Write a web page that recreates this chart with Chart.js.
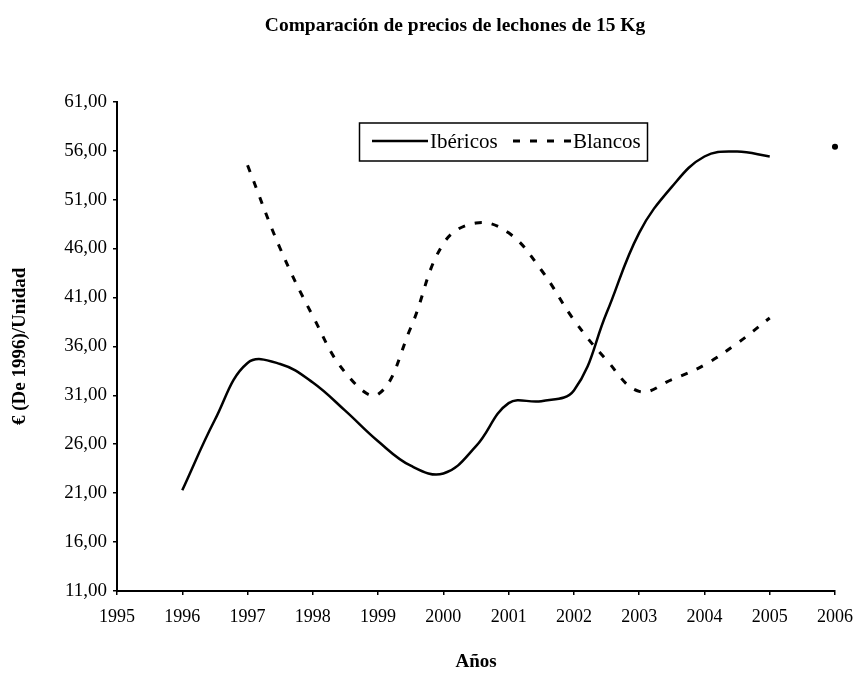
<!DOCTYPE html>
<html>
<head>
<meta charset="utf-8">
<script src="https://cdn.jsdelivr.net/npm/chart.js@4/dist/chart.umd.min.js"></script>
<style>
  html, body { margin: 0; padding: 0; background: #fff; }
  #wrap { width: 856px; height: 673px; }
</style>
</head>
<body>
<div id="wrap"><canvas id="chart" width="856" height="673"></canvas></div>
<script>
// years (half-year steps)
const years = [1996, 1996.5, 1997, 1997.5, 1998, 1998.5, 1999, 1999.5, 2000, 2000.5,
               2001, 2001.5, 2002, 2002.5, 2003, 2003.5, 2004, 2004.5, 2005, 2005.5, 2006];
const ibericos = [21.3, 28.5, 34.3, 34.2, 32.3, 29.4, 26.3, 23.8, 23.0, 25.8,
                  30.2, 30.4, 31.5, 39.4, 47.6, 52.3, 55.4, 55.9, 55.4, null, 56.4];
const blancos = [null, null, 54.5, 46.0, 39.1, 33.3, 31.1, 37.9, 46.5, 48.6,
                 47.6, 43.8, 38.7, 34.6, 31.4, 32.6, 34.1, 36.3, 38.9, null, null];
const seriesNames = ['Ibéricos', 'Blancos'];
const yTicks = [11, 16, 21, 26, 31, 36, 41, 46, 51, 56, 61];
const xTicks = [1995, 1996, 1997, 1998, 1999, 2000, 2001, 2002, 2003, 2004, 2005, 2006];
const chartTitle = 'Comparación de precios de lechones de 15 Kg';

const FONT = "'Liberation Serif', 'Times New Roman', serif";
Chart.defaults.font.family = FONT;
Chart.defaults.color = '#000';

const toXY = vals => years.map((x, i) => ({ x, y: vals[i] }));
const fmt = v => v.toFixed(2).replace('.', ',');

// title sits off-centre in the original, so it is drawn by hand
const titleText = {
  id: 'titleText',
  afterDraw(chart) {
    const ctx = chart.ctx;
    ctx.save();
    ctx.font = 'bold 19.5px ' + FONT;
    ctx.fillStyle = '#000';
    ctx.textAlign = 'center';
    ctx.textBaseline = 'middle';
    ctx.fillText(chartTitle, 455, 26);
    ctx.restore();
  }
};

// legend drawn inside the plot, boxed like the original
const boxLegend = {
  id: 'boxLegend',
  afterDraw(chart) {
    const ctx = chart.ctx;
    ctx.save();
    ctx.strokeStyle = '#000';
    ctx.lineWidth = 1.5;
    ctx.strokeRect(359.5, 123, 288, 38);
    ctx.font = '21px ' + FONT;
    ctx.fillStyle = '#000';
    ctx.textBaseline = 'middle';
    const items = [
      { x0: 372, x1: 428, tx: 430 },
      { x0: 513, x1: 572, tx: 573 }
    ];
    chart.data.datasets.slice(0, 2).forEach((ds, i) => {
      const it = items[i];
      ctx.lineWidth = ds.borderWidth;
      ctx.setLineDash(ds.borderDash || []);
      ctx.beginPath();
      ctx.moveTo(it.x0, 141);
      ctx.lineTo(it.x1, 141);
      ctx.stroke();
      ctx.setLineDash([]);
      ctx.fillText(ds.label, it.tx, 142);
    });
    ctx.restore();
  }
};

new Chart(document.getElementById('chart'), {
  type: 'line',
  data: {
    datasets: [
      {
        label: seriesNames[0],
        data: toXY(ibericos),
        borderColor: '#000',
        backgroundColor: '#000',
        borderWidth: 2.5,
        tension: 0.4,
        spanGaps: false,
        clip: false,
        pointRadius: ctx => (ctx.dataIndex === years.length - 1 ? 1.8 : 0)
      },
      {
        label: seriesNames[1],
        data: toXY(blancos),
        borderColor: '#000',
        borderWidth: 3,
        borderDash: [7, 10],
        tension: 0.4,
        spanGaps: false,
        pointRadius: 0
      }
    ]
  },
  options: {
    responsive: false,
    animation: false,
    layout: { padding: { left: 0, right: 21, top: 101.7, bottom: 0 } },
    plugins: {
      legend: { display: false },
      tooltip: { enabled: false },
      title: { display: false }
    },
    scales: {
      x: {
        type: 'linear',
        min: 1995,
        max: 2006,
        afterFit: s => { s.height = 82; s.paddingLeft = 0; s.paddingRight = 0; },
        afterBuildTicks: s => { s.ticks = xTicks.map(v => ({ value: v })); },
        ticks: {
          callback: v => String(v),
          font: { size: 18 },
          padding: 11,
          maxRotation: 0,
          autoSkip: false
        },
        grid: { drawOnChartArea: false, drawTicks: true, tickLength: 4, color: '#000', lineWidth: 1.5 },
        border: { color: '#000', width: 2 },
        title: {
          display: true,
          text: 'Años',
          font: { size: 19, weight: 'bold' },
          padding: { top: 0, bottom: 0 }
        }
      },
      y: {
        min: 11,
        max: 61,
        afterFit: s => { s.width = 117; s.paddingTop = 0; s.paddingBottom = 0; },
        afterBuildTicks: s => { s.ticks = yTicks.map(v => ({ value: v })); },
        ticks: {
          callback: v => fmt(v),
          font: { size: 19 },
          padding: 6
        },
        grid: { drawOnChartArea: false, drawTicks: true, tickLength: 4, color: '#000', lineWidth: 1.5 },
        border: { color: '#000', width: 2 },
        title: {
          display: true,
          text: '€ (De 1996)/Unidad',
          font: { size: 19, weight: 'bold' },
          padding: { top: 8.6, bottom: 8.6 }
        }
      }
    }
  },
  plugins: [titleText, boxLegend]
});
</script>
</body>
</html>
